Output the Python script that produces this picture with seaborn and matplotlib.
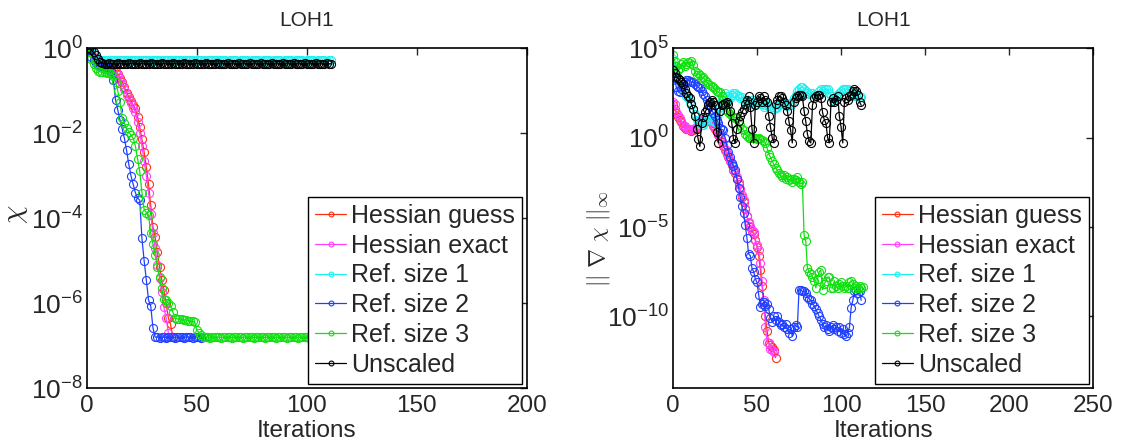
#!/usr/bin/env python3
"""LOH1 convergence: objective chi and gradient norm vs iterations."""
import numpy as np
import matplotlib; matplotlib.use('Agg')
import matplotlib.pyplot as plt
import seaborn as sns

# ─── Data (log10 of the plotted values, one entry per iteration) ───
NAMES = ['Hessian guess', 'Hessian exact', 'Ref. size 1', 'Ref. size 2', 'Ref. size 3', 'Unscaled']
COLORS = ['#ff3010', '#ff40ff', '#20f0f0', '#2040ff', '#10e010', '#000000']

# left panel: chi
chi_hguess = [0.05, -0.02, -0.10, -0.20, -0.30, -0.35, -0.38, -0.40, -0.41, -0.42,
              -0.43, -0.45, -0.48, -0.53, -0.60, -0.70, -0.80, -0.92, -1.05, -1.15,
              -1.25, -1.35, -1.42, -1.62, -1.85, -2.15, -2.45, -2.80, -3.20, -3.70,
              -4.20, -4.45, -4.80, -5.15, -5.45, -5.70, -6.00, -6.35, -6.50, -6.80]
chi_hexact = [0.05, -0.02, -0.10, -0.20, -0.30, -0.36, -0.39, -0.41, -0.42, -0.43,
              -0.44, -0.46, -0.50, -0.56, -0.64, -0.74, -0.85, -0.97, -1.10, -1.20,
              -1.30, -1.40, -1.50, -1.75, -2.00, -2.30, -2.65, -3.00, -3.40, -3.90,
              -4.35, -4.70, -5.10, -5.40, -5.75, -6.10, -6.35, -6.70]
chi_ref1 = [0.03, -0.02, -0.08, -0.15, -0.22, -0.26, -0.28, -0.29,
            -0.29, -0.29, -0.30, -0.29, -0.29, -0.29, -0.30, -0.29,
            -0.29, -0.29, -0.29, -0.30, -0.29, -0.29, -0.29, -0.29,
            -0.30, -0.29, -0.29, -0.29, -0.29, -0.30, -0.29, -0.29,
            -0.29, -0.29, -0.30, -0.29, -0.29, -0.29, -0.29, -0.30,
            -0.29, -0.29, -0.29, -0.29, -0.30, -0.29, -0.29, -0.29,
            -0.29, -0.30, -0.29, -0.29, -0.29, -0.29, -0.30, -0.29,
            -0.29, -0.29, -0.29, -0.30, -0.29, -0.29, -0.29, -0.29,
            -0.30, -0.29, -0.29, -0.29, -0.29, -0.30, -0.29, -0.29,
            -0.29, -0.29, -0.30, -0.29, -0.29, -0.29, -0.29, -0.30,
            -0.29, -0.29, -0.29, -0.29, -0.30, -0.29, -0.29, -0.29,
            -0.29, -0.30, -0.29, -0.29, -0.29, -0.29, -0.30, -0.29,
            -0.29, -0.29, -0.29, -0.30, -0.29, -0.29, -0.29, -0.29,
            -0.30, -0.29, -0.29, -0.29, -0.29, -0.30, -0.29, -0.29]
chi_ref2 = [0.05, -0.05, -0.20, -0.28, -0.35, -0.40, -0.42, -0.43, -0.44, -0.45,
            -0.47, -0.55, -0.75, -1.22, -1.45, -1.69, -1.90, -2.12, -2.40, -2.73,
            -3.00, -3.20, -3.40, -3.53, -3.58, -4.48, -5.00, -5.46, -5.93, -6.07,
            -6.58, -6.80, -6.80, -6.81, -6.80, -6.80, -6.81, -6.80, -6.80, -6.80,
            -6.81, -6.80, -6.80, -6.80, -6.81, -6.80, -6.80, -6.80, -6.81, -6.80,
            -6.80, -6.80, -6.81, -6.80, -6.80]
chi_ref3 = [0.05, -0.10, -0.25, -0.38, -0.48, -0.54, -0.56, -0.57, -0.57, -0.58,
            -0.58, -0.60, -0.65, -0.80, -1.00, -1.27, -1.65, -1.77, -1.88, -1.97,
            -2.05, -2.12, -2.30, -2.60, -2.90, -3.40, -3.80, -3.87, -3.93, -4.36,
            -4.60, -4.87, -5.14, -5.38, -5.65, -5.90, -5.93, -6.00, -6.07, -6.20,
            -6.36, -6.37, -6.38, -6.38, -6.39, -6.40, -6.41, -6.42, -6.43, -6.45,
            -6.64, -6.70, -6.75, -6.80, -6.80, -6.80, -6.81, -6.80, -6.80, -6.80,
            -6.80, -6.81, -6.80, -6.80, -6.80, -6.80, -6.81, -6.80, -6.80, -6.80,
            -6.80, -6.81, -6.80, -6.80, -6.80, -6.80, -6.81, -6.80, -6.80, -6.80,
            -6.80, -6.81, -6.80, -6.80, -6.80, -6.80, -6.81, -6.80, -6.80, -6.80,
            -6.80, -6.81, -6.80, -6.80, -6.80, -6.80, -6.81, -6.80, -6.80, -6.80,
            -6.80, -6.81, -6.80, -6.80, -6.80, -6.80, -6.81, -6.80, -6.80, -6.80,
            -6.80, -6.80]
chi_unscaled = [0.07, 0.00, -0.05, -0.10, -0.16, -0.25, -0.33, -0.36,
                -0.37, -0.37, -0.36, -0.37, -0.37, -0.37, -0.36, -0.37,
                -0.37, -0.37, -0.37, -0.36, -0.37, -0.37, -0.37, -0.37,
                -0.36, -0.37, -0.37, -0.37, -0.37, -0.36, -0.37, -0.37,
                -0.37, -0.37, -0.36, -0.37, -0.37, -0.37, -0.37, -0.36,
                -0.37, -0.37, -0.37, -0.37, -0.36, -0.37, -0.37, -0.37,
                -0.37, -0.36, -0.37, -0.37, -0.37, -0.37, -0.36, -0.37,
                -0.37, -0.37, -0.37, -0.36, -0.37, -0.37, -0.37, -0.37,
                -0.36, -0.37, -0.37, -0.37, -0.37, -0.36, -0.37, -0.37,
                -0.37, -0.37, -0.36, -0.37, -0.37, -0.37, -0.37, -0.36,
                -0.37, -0.37, -0.37, -0.37, -0.36, -0.37, -0.37, -0.37,
                -0.37, -0.36, -0.37, -0.37, -0.37, -0.37, -0.36, -0.37,
                -0.37, -0.37, -0.37, -0.36, -0.37, -0.37, -0.37, -0.37,
                -0.36, -0.37, -0.37, -0.37, -0.37, -0.36, -0.37, -0.37]

# right panel: || grad chi ||_inf
grad_hguess = [1.80, 1.60, 1.35, 1.15, 1.00, 0.85, 0.65, 0.55, 0.50, 0.45,
               0.40, 0.38, 0.42, 0.50, 0.58, 0.68, 0.80, 0.92, 1.00, 1.05,
               1.00, 0.95, 0.90, 0.80, 0.65, 0.50, 0.35, 0.15, -0.05, -0.25,
               -0.45, -0.70, -0.90, -1.10, -1.30, -1.55, -1.80, -2.00, -2.30, -2.60,
               -2.90, -3.30, -3.60, -4.00, -4.40, -4.75, -5.00, -5.20, -5.40, -5.75,
               -6.10, -6.60, -7.40, -8.30, -9.20, -10.0, -10.8, -11.5, -11.6, -11.7,
               -11.9, -12.3]
grad_hexact = [2.00, 1.90, 1.42, 1.25, 1.08, 0.90, 0.70, 0.62, 0.56, 0.50,
               0.45, 0.42, 0.45, 0.53, 0.60, 0.70, 0.85, 0.98, 1.05, 1.10,
               1.08, 1.04, 1.00, 0.85, 0.70, 0.55, 0.42, 0.20, 0.00, -0.20,
               -0.42, -0.65, -0.85, -1.05, -1.26, -1.50, -1.75, -1.95, -2.20, -2.50,
               -2.85, -3.20, -3.50, -3.95, -4.40, -4.70, -4.95, -5.15, -5.30, -5.70,
               -6.00, -6.30, -7.00, -8.00, -9.10, -10.6, -11.4, -11.5, -11.8, -11.9,
               -12.0]
grad_ref1 = [4.40, 4.00, 3.60, 3.30, 3.10, 2.90, 2.70, 2.50, 2.30, 2.20,
             2.00, 1.80, 1.60, 1.30, 1.00, 0.90, 0.80, 0.70, 0.70, 0.90,
             1.00, 1.15, 1.15, 1.00, 0.90, 0.87, 0.87, 1.30, 1.70, 2.10,
             2.30, 2.48, 2.30, 2.10, 2.20, 2.40, 2.50, 2.50, 2.40, 2.30,
             2.20, 2.26, 2.10, 2.00, 1.80, 1.90, 2.00, 2.10, 2.00, 1.90,
             2.00, 2.10, 2.00, 1.85, 1.70, 1.80, 1.90, 1.75, 1.65, 1.70,
             1.60, 1.65, 1.70, 1.80, 1.90, 2.00, 1.90, 1.80, 1.75, 1.80,
             1.80, 2.00, 2.20, 2.40, 2.60, 2.70, 2.80, 2.85, 2.70, 2.60,
             2.50, 2.45, 2.50, 2.50, 2.40, 2.30, 2.40, 2.60, 2.70, 2.60,
             2.70, 2.70, 2.70, 2.50, 2.30, 2.10, 2.20, 2.30, 2.40, 2.50,
             2.60, 2.70, 2.70, 2.70, 2.70, 2.60, 2.50, 2.40, 2.30, 2.30,
             2.30, 2.26, 2.26]
grad_ref2 = [3.80, 3.30, 2.80, 2.60, 2.55, 2.70, 2.90, 3.10, 3.20, 3.20,
             3.15, 3.10, 3.10, 3.00, 2.90, 2.80, 2.76, 2.60, 2.45, 2.30,
             2.10, 1.90, 1.75, 1.55, 1.37, 1.20, 1.00, 0.80, 0.53, 0.45,
             0.42, 0.00, -0.42, -0.80, -1.10, -1.40, -1.60, -1.80, -2.30, -2.80,
             -3.30, -3.80, -4.20, -4.90, -5.60, -6.50, -6.60, -7.30, -7.50, -7.90,
             -8.10, -8.80, -9.45, -9.30, -9.20, -9.40, -9.30, -9.60, -10.1, -10.3,
             -10.0, -10.2, -10.0, -10.3, -10.5, -10.4, -10.6, -10.4, -10.7, -10.9,
             -10.7, -11.1, -10.6, -10.5, -10.6, -8.50, -8.50, -8.60, -8.60, -8.70,
             -8.90, -9.00, -9.10, -9.30, -9.40, -9.60, -9.80, -10.0, -10.2, -10.4,
             -10.6, -10.5, -10.7, -10.8, -10.6, -10.5, -10.7, -10.6, -10.8, -10.6,
             -10.9, -10.7, -11.0, -11.1, -10.9, -10.6, -9.50, -9.10, -8.60, -8.50,
             -8.70, -8.60, -9.10]
grad_ref3 = [4.60, 4.30, 4.00, 3.80, 3.90, 4.10, 4.20, 4.00, 4.10, 4.20,
             4.15, 4.30, 4.05, 3.70, 3.50, 3.60, 3.50, 3.30, 3.40, 3.20,
             3.10, 3.00, 2.93, 2.90, 2.80, 2.70, 2.60, 2.55, 2.54, 2.30,
             2.10, 1.80, 1.54, 1.40, 1.30, 1.20, 1.15, 1.10, 1.15, 0.90,
             0.70, 0.50, 0.40, 0.20, 0.10, 0.00, -0.05, -0.03, -0.03, 0.00,
             -0.10, -0.05, -0.10, -0.14, -0.20, -0.30, -0.60, -0.90, -1.10, -1.30,
             -1.50, -1.70, -1.80, -2.00, -2.10, -2.20, -2.10, -2.30, -2.20, -2.40,
             -2.30, -2.50, -2.30, -2.40, -2.20, -2.50, -2.60, -2.50, -5.45, -5.80,
             -7.30, -7.50, -7.60, -7.80, -8.00, -8.40, -7.90, -7.50, -7.40, -8.50,
             -8.20, -8.00, -7.80, -7.80, -8.40, -8.40, -8.00, -8.30, -8.40, -8.20,
             -8.10, -8.30, -8.40, -8.30, -8.40, -8.10, -8.00, -8.20, -8.40, -8.30,
             -8.40, -8.30, -8.40, -8.35]
grad_unscaled = [3.77, 3.60, 3.40, 3.30, 3.20, 3.10, 3.00, 2.70, 2.50, 2.30,
                 2.20, 1.90, 1.60, 1.20, 0.50, -0.10, -0.50, 0.80, 1.15, 1.40,
                 1.60, 1.80, 2.00, 2.10, 2.00, 1.80, 0.30, -0.30, 1.50, 1.80,
                 1.90, 1.95, 2.00, 1.90, 1.50, 0.80, -0.10, -0.30, 0.50, 0.90,
                 1.20, 1.40, 1.60, 1.90, 2.10, 2.30, 1.70, 0.50, -0.30, 1.80,
                 2.00, 2.30, 2.20, 2.00, 2.30, 2.10, 2.00, 1.20, 0.60, 0.00,
                 -0.30, 1.90, 2.10, 2.30, 2.30, 2.20, 2.00, 1.80, 1.50, 0.90,
                 0.40, -0.30, 2.00, 2.20, 2.30, 2.40, 2.40, 2.30, 1.50, 0.90,
                 0.20, -0.20, -0.30, 1.80, 2.20, 2.30, 2.40, 2.40, 2.20, 1.40,
                 1.00, 0.80, 0.00, -0.30, 2.00, 2.20, 2.00, 2.10, 2.30, 1.20,
                 0.60, -0.30, 2.00, 2.20, 2.10, 2.30, 2.40, 2.60, 2.70, 2.60,
                 2.40, 2.00, 1.80]

left_series = [chi_hguess, chi_hexact, chi_ref1, chi_ref2, chi_ref3, chi_unscaled]
right_series = [grad_hguess, grad_hexact, grad_ref1, grad_ref2, grad_ref3, grad_unscaled]

# ─── Style ───
sns.set_style('white')
plt.rcParams['font.family'] = ['Liberation Sans', 'DejaVu Sans']
plt.rcParams['mathtext.fontset'] = 'custom'
plt.rcParams['mathtext.rm'] = 'Liberation Sans'
plt.rcParams['mathtext.it'] = 'Liberation Sans:italic'
FS = 17.5

fig = plt.figure(figsize=(11.22, 4.41), dpi=100)
ax1 = fig.add_axes([0.0775, 0.12, 0.392, 0.771])
ax2 = fig.add_axes([0.5998, 0.12, 0.3745, 0.771])

for ax, series in [(ax1, left_series), (ax2, right_series)]:
    for vals, name, c in zip(series, NAMES, COLORS):
        it = np.arange(len(vals))
        sns.lineplot(x=it, y=10.0 ** np.array(vals), ax=ax, color=c, lw=0.9,
                     marker='o', markersize=5.8, markerfacecolor='none',
                     markeredgecolor=c, markeredgewidth=0.8, label=name,
                     legend=False, estimator=None)
    ax.set_yscale('log')
    ax.set_title('LOH1', fontsize=15, pad=16)
    ax.set_xlabel('Iterations', fontsize=FS, labelpad=2)
    ax.tick_params(direction='in', top=True, right=True, length=5, width=1,
                   labelsize=FS, pad=5)
    ax.tick_params(axis='y', labelsize=19, pad=3)
    ax.minorticks_off()
    for sp in ax.spines.values():
        sp.set_linewidth(1.2); sp.set_color('black')
    leg = ax.legend(loc='lower right', fontsize=18, frameon=True, fancybox=False,
                    framealpha=1, edgecolor='black', markerscale=0.6,
                    handlelength=1.25, handletextpad=0.2, labelspacing=0.23,
                    borderpad=0.28, borderaxespad=0.18)
    leg.get_frame().set_linewidth(1.0)
    leg.set_zorder(10)

ax1.set_xlim(0, 200); ax1.set_xticks([0, 50, 100, 150, 200])
ax1.set_ylim(1e-8, 1e0); ax1.set_yticks([1e0, 1e-2, 1e-4, 1e-6, 1e-8])
ax1.set_ylabel('$\\chi$', fontsize=21, math_fontfamily='cm')
ax1.yaxis.set_label_coords(-0.13, 0.51)

ax2.set_xlim(0, 250); ax2.set_xticks([0, 50, 100, 150, 200, 250])
ax2.set_ylim(1e-14, 1e5); ax2.set_yticks([1e5, 1e0, 1e-5, 1e-10])
ax2.set_ylabel('$||\\ \\nabla\\ \\chi\\ ||_\\infty$', fontsize=16.5, math_fontfamily='cm')
ax2.yaxis.set_label_coords(-0.145, 0.44)
ax1.minorticks_off(); ax2.minorticks_off()

plt.savefig('out.png', dpi=100)
plt.close()
